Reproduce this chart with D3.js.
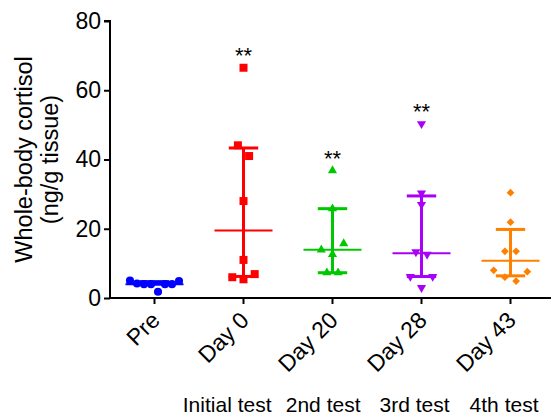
<!DOCTYPE html>
<html>
<head>
<meta charset="utf-8">
<script src="https://cdn.jsdelivr.net/npm/d3@7"></script>
<style>
  html, body { margin: 0; padding: 0; background: #fff; }
  svg { display: block; font-family: Arial, "Liberation Sans", sans-serif; }
</style>
</head>
<body>
<svg id="chart" width="551" height="416"></svg>
<script>
// ---- data ----
const categories = ["Pre", "Day 0", "Day 20", "Day 28", "Day 43"];
const testLabels = ["", "Initial test", "2nd test", "3rd test", "4th test"];
const significance = ["", "**", "**", "**", ""];
const preValues   = [4.9, 4.0, 4.0, 4.2, 4.0, 4.0, 5.0, 1.8];
const day0Values  = [66.5, 44.1, 41.0, 28.0, 11.0, 6.9, 5.4, 6.0];
const day20Values = [36.8, 25.8, 15.7, 13.9, 12.6, 7.3, 7.3];
const day28Values = [50.3, 30.3, 27.0, 13.3, 12.6, 6.2, 6.2, 3.0];
const day43Values = [30.4, 21.9, 13.5, 13.5, 7.6, 8.0, 6.0, 4.9];
const yTicks = [0, 20, 40, 60, 80];
const yTitle = ["Whole-body cortisol", "(ng/g tissue)"];

const groups = [preValues, day0Values, day20Values, day28Values, day43Values];
const colors = ["#0000FF", "#FF0000", "#00C800", "#A800F8", "#FF8000"];
const shapes = ["circle", "square", "triangle", "triangleDown", "diamond"];

// ---- layout ----
const svg = d3.select("#chart");
const x = d3.scaleBand().domain(categories).range([110, 555]);
const y = d3.scaleLinear().domain([0, 80]).range([298, 21]);
const cx = c => x(c) + x.bandwidth() / 2;

// Prism-style quantile (n+1 basis)
function pq(sorted, p) {
  const n = sorted.length, h = p * (n + 1);
  if (h <= 1) return sorted[0];
  if (h >= n) return sorted[n - 1];
  const lo = Math.floor(h);
  return sorted[lo - 1] + (h - lo) * (sorted[lo] - sorted[lo - 1]);
}

// row-based scatter layout
function layout(values, spacing) {
  const sorted = values.map((v, i) => ({v, i})).sort((a, b) => a.v - b.v);
  const rows = [];
  let cur = null;
  sorted.forEach(p => {
    if (cur && Math.abs(y(cur[0].v) - y(p.v)) < 11.2) cur.push(p);
    else { cur = [p]; rows.push(cur); }
  });
  const out = [];
  rows.forEach(row => {
    const k = row.length;
    row.forEach((p, j) => {
      let off;
      if (k % 2 === 1) {
        const m = Math.ceil(j / 2);
        off = j === 0 ? 0 : (j % 2 === 1 ? -m : m);
      } else {
        const m = Math.floor(j / 2) + 0.5;
        off = j % 2 === 0 ? m : -m;
      }
      out.push({v: p.v, dx: off * spacing});
    });
  });
  return out;
}

function symbolPath(shape) {
  if (shape === "circle") return d3.symbol(d3.symbolCircle, 52)();
  if (shape === "square") return d3.symbol(d3.symbolSquare, 64)();
  if (shape === "triangle" || shape === "triangleDown") return d3.symbol(d3.symbolTriangle, 36)();
  return d3.symbol(d3.symbolSquare, 30)();
}
function symbolRotate(shape) {
  if (shape === "triangleDown") return 180;
  if (shape === "diamond") return 45;
  return 0;
}

// ---- axes ----
const yAxis = svg.append("g")
  .attr("transform", "translate(110,0)")
  .call(d3.axisLeft(y).tickValues(yTicks).tickSize(6).tickPadding(3).tickFormat(d3.format("d")));
const xAxis = svg.append("g")
  .attr("transform", "translate(0,298)")
  .call(d3.axisBottom(x).tickSize(6).tickFormat(""));
[yAxis, xAxis].forEach(g => {
  g.select(".domain").attr("stroke", "#000").attr("stroke-width", 2);
  g.selectAll(".tick line").attr("stroke", "#000").attr("stroke-width", 2);
});
yAxis.select(".domain").attr("d", `M-6,${y(80)}H0V${y(0)}`);
xAxis.select(".domain").attr("d", `M110,0H555`);
yAxis.selectAll(".tick text")
  .attr("font-size", 23).attr("fill", "#000")
  .attr("font-family", "Arial, 'Liberation Sans', sans-serif");

// rotated category labels
xAxis.selectAll(".tick").append("text")
  .attr("class", "cat")
  .attr("text-anchor", "end")
  .attr("font-size", 23)
  .attr("fill", "#000")
  .attr("font-family", "Arial, 'Liberation Sans', sans-serif")
  .attr("transform", "translate(1,18) rotate(-45)")
  .attr("dy", "0.35em")
  .text(d => d);

// test labels
svg.append("g").selectAll("text")
  .data(categories.map((c, i) => ({c, t: testLabels[i]})).filter(d => d.t))
  .join("text")
  .attr("x", d => cx(d.c) + 28)
  .attr("y", 412)
  .attr("text-anchor", "end")
  .attr("font-size", 21)
  .attr("fill", "#000")
  .text(d => d.t);

// y title
const yt = svg.append("text")
  .attr("transform", `translate(0,${(y(0) + y(80)) / 2}) rotate(-90)`)
  .attr("text-anchor", "middle")
  .attr("font-size", 23.5)
  .attr("fill", "#000");
yt.append("tspan").attr("x", 0).attr("y", 32).text(yTitle[0]);
yt.append("tspan").attr("x", 0).attr("y", 58).text(yTitle[1]);

// ---- groups ----
groups.forEach((vals, gi) => {
  const c = categories[gi];
  const col = colors[gi];
  const xc = cx(c);
  const s = vals.slice().sort((a, b) => a - b);
  const med = pq(s, 0.5), q1 = pq(s, 0.25), q3 = pq(s, 0.75);
  const g = svg.append("g");
  // whisker
  g.append("line").attr("x1", xc).attr("x2", xc).attr("y1", y(q1)).attr("y2", y(q3))
    .attr("stroke", col).attr("stroke-width", 3);
  [q1, q3].forEach(q => g.append("line")
    .attr("x1", xc - 14.7).attr("x2", xc + 14.7).attr("y1", y(q)).attr("y2", y(q))
    .attr("stroke", col).attr("stroke-width", 3));
  g.append("line").attr("x1", xc - 29).attr("x2", xc + 29).attr("y1", y(med)).attr("y2", y(med))
    .attr("stroke", col).attr("stroke-width", 2);
  // points
  const pts = layout(vals, gi === 0 ? 7 : 11.2);
  g.selectAll("path.pt").data(pts).join("path")
    .attr("class", "pt")
    .attr("d", symbolPath(shapes[gi]))
    .attr("transform", d => `translate(${xc + d.dx},${y(d.v)}) rotate(${symbolRotate(shapes[gi])})`)
    .attr("fill", col);
  // significance
  if (significance[gi]) {
    g.append("text")
      .attr("x", xc).attr("y", y(d3.max(vals)) - 5)
      .attr("text-anchor", "middle")
      .attr("font-size", 22)
      .attr("fill", "#000")
      .text(significance[gi]);
  }
});
</script>
</body>
</html>
